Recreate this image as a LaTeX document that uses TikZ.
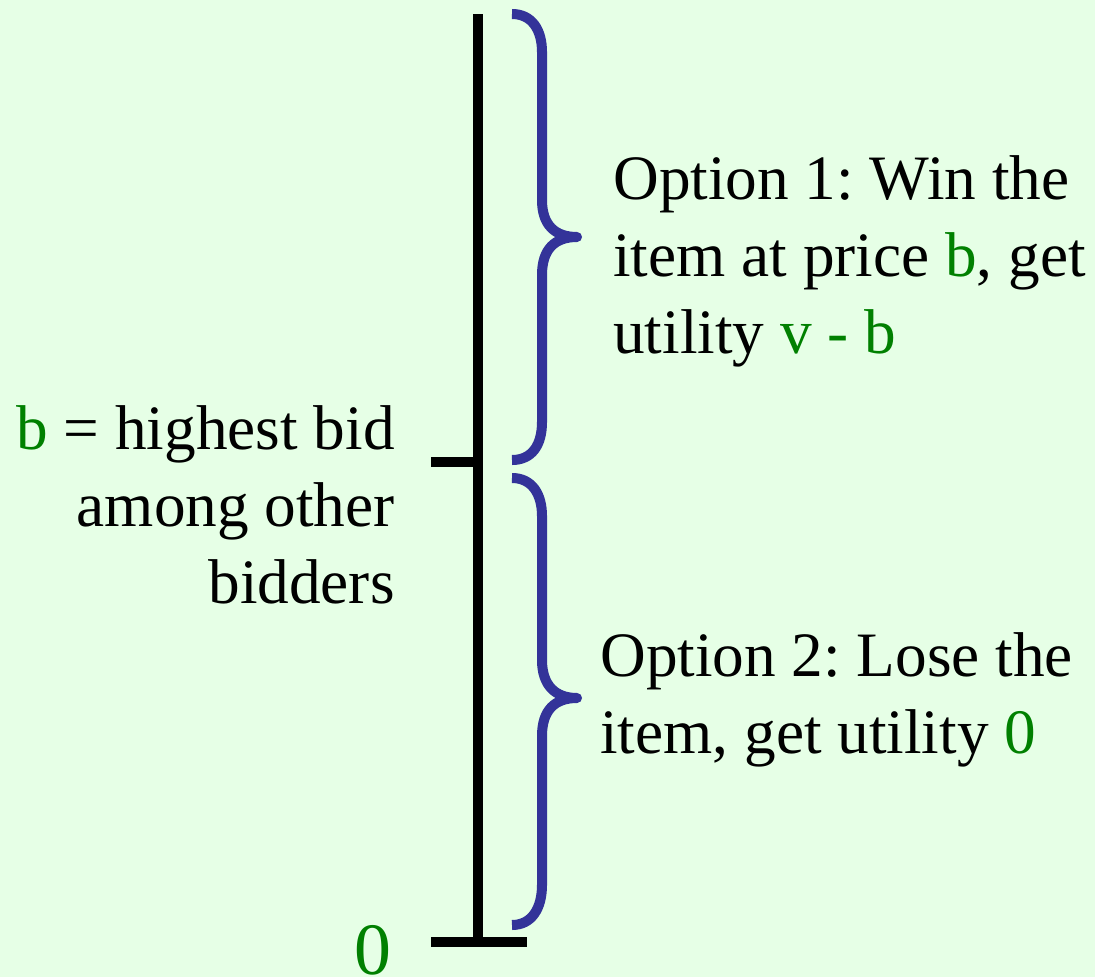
\documentclass[tikz,border=0pt]{standalone}
\usepackage{fontspec}
\setmainfont{Liberation Serif}
\usepackage{xcolor}
\definecolor{bgmint}{RGB}{230,255,230}
\definecolor{bracenavy}{RGB}{51,51,153}
\definecolor{bidgreen}{RGB}{0,128,0}
\usetikzlibrary{positioning}
\frenchspacing

\begin{document}
\begin{tikzpicture}[x=0.02cm,y=-0.02cm,
  axisline/.style={line width=6.2pt,black},
  bracket/.style={line width=5.7pt,bracenavy,line join=round},
  lbl/.style={inner sep=0pt,font=\fontsize{36}{43.7}\selectfont},
  hl/.style={text=bidgreen}]
  % background
  \fill[bgmint] (0,0) rectangle (1095,977);
  \useasboundingbox (0,0) rectangle (1095,977);
  % bid axis
  \coordinate (top) at (478,14);
  \coordinate (mid) at (478,462);
  \coordinate (bot) at (478,942);
  \coordinate (midl) at (431,462);
  \coordinate (botl) at (431,942);
  \coordinate (botr) at (527,942);
  \draw[axisline] (top) -- (bot);
  \draw[axisline] (midl) -- (mid);
  \draw[axisline] (botl) -- (botr);
  % braces
  \draw[bracket] (512,14) .. controls (532,14) and (542,30) .. (542,52) -- (542,200)
    .. controls (542,225) and (555,237) .. (577,237)
    .. controls (555,237) and (542,249) .. (542,275) -- (542,422)
    .. controls (542,445) and (532,460) .. (512,460);
  \draw[bracket] (512,478) .. controls (532,478) and (542,494) .. (542,516) -- (542,660)
    .. controls (542,685) and (555,698) .. (577,698)
    .. controls (555,698) and (542,710) .. (542,736) -- (542,885)
    .. controls (542,908) and (532,925) .. (512,925);
  % labels (base = last line)
  \node[lbl,anchor=base east,align=right] (bid) at (395,603)
    {{\color{bidgreen}b} = highest bid\\among other\\bidders};
  \node[lbl,hl,anchor=base,font=\fontsize{42}{50}\selectfont] (zero) at (373,974) {0};
  \node[lbl,anchor=base west,align=left] (win) at (613,353)
    {Option 1: Win the\\item at price {\color{bidgreen}b}, get\\utility {\color{bidgreen}v - b}};
  \node[lbl,anchor=base west,align=left] (lose) at (600,753)
    {Option 2: Lose the\\item, get utility {\color{bidgreen}0}};
\end{tikzpicture}
\end{document}
